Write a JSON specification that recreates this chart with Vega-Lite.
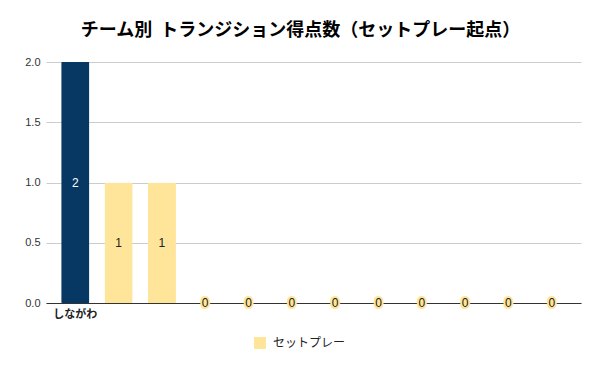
{
  "$schema": "https://vega.github.io/schema/vega-lite/v6.json",
  "width": 535,
  "height": 241,
  "autosize": {"type": "none"},
  "padding": {"left": 46, "top": 62, "right": 19, "bottom": 68},
  "background": "white",
  "title": {
    "text": "チーム別\u00a0\u00a0トランジション得点数（セットプレー起点）",
    "font": "Noto Sans CJK JP",
    "fontSize": 18,
    "fontWeight": "bold",
    "color": "#000000",
    "anchor": "middle",
    "dx": -13,
    "offset": 16
  },
  "config": {
    "view": {"stroke": null},
    "font": "Liberation Sans, Noto Sans CJK JP"
  },
  "data": {
    "values": [
      {"team": "しながわ", "series": "セットプレー", "value": 2},
      {"team": "チーム2", "series": "セットプレー", "value": 1},
      {"team": "チーム3", "series": "セットプレー", "value": 1},
      {"team": "チーム4", "series": "セットプレー", "value": 0},
      {"team": "チーム5", "series": "セットプレー", "value": 0},
      {"team": "チーム6", "series": "セットプレー", "value": 0},
      {"team": "チーム7", "series": "セットプレー", "value": 0},
      {"team": "チーム8", "series": "セットプレー", "value": 0},
      {"team": "チーム9", "series": "セットプレー", "value": 0},
      {"team": "チーム10", "series": "セットプレー", "value": 0},
      {"team": "チーム11", "series": "セットプレー", "value": 0},
      {"team": "チーム12", "series": "セットプレー", "value": 0}
    ]
  },
  "encoding": {
    "x": {
      "field": "team",
      "type": "nominal",
      "sort": null,
      "scale": {"paddingInner": 0.35, "paddingOuter": 0.35},
      "axis": {
        "title": null,
        "labelAngle": 0,
        "labelExpr": "datum.value == 'しながわ' ? datum.label : ''",
        "labelFont": "Noto Sans CJK JP",
        "labelFontSize": 11,
        "labelFontWeight": "bold",
        "labelColor": "#222222",
        "labelPadding": 5,
        "ticks": false,
        "domainColor": "#333333",
        "domainWidth": 1
      }
    }
  },
  "layer": [
    {
      "mark": {"type": "bar", "cornerRadius": 1},
      "encoding": {
        "y": {
          "field": "value",
          "type": "quantitative",
          "scale": {"domain": [0, 2]},
          "axis": {
            "title": null,
            "values": [0, 0.5, 1, 1.5, 2],
            "format": ".1f",
            "labelFont": "Liberation Sans",
            "labelFontSize": 11,
            "labelColor": "#333333",
            "labelPadding": 6,
            "ticks": false,
            "domain": false,
            "gridColor": "#cccccc"
          }
        },
        "color": {
          "condition": {"test": "datum.team == 'しながわ'", "value": "#073763"},
          "field": "series",
          "type": "nominal",
          "scale": {"domain": ["セットプレー"], "range": ["#ffe599"]},
          "legend": {
            "title": null,
            "orient": "none",
            "legendX": 208,
            "legendY": 275,
            "symbolType": "square",
            "symbolSize": 144,
            "symbolStrokeWidth": 0,
            "symbolOffset": 0,
            "labelOffset": 7,
            "labelFont": "Noto Sans CJK JP",
            "labelFontSize": 12,
            "labelColor": "#222222"
          }
        }
      }
    },
    {
      "transform": [
        {"filter": "datum.value > 0"},
        {"calculate": "datum.value / 2", "as": "mid"}
      ],
      "mark": {"type": "text", "font": "Liberation Sans", "fontSize": 12, "baseline": "middle"},
      "encoding": {
        "y": {"field": "mid", "type": "quantitative"},
        "text": {"field": "value", "type": "quantitative"},
        "color": {
          "condition": {"test": "datum.team == 'しながわ'", "value": "#ffffff"},
          "value": "#222222"
        }
      }
    },
    {
      "transform": [{"filter": "datum.value == 0"}],
      "mark": {"type": "text", "font": "Liberation Sans", "fontSize": 12, "baseline": "middle", "stroke": "#ffe599", "strokeWidth": 4, "fill": "#ffe599"},
      "encoding": {
        "y": {"field": "value", "type": "quantitative"},
        "text": {"field": "value", "type": "quantitative"}
      }
    },
    {
      "transform": [{"filter": "datum.value == 0"}],
      "mark": {"type": "text", "font": "Liberation Sans", "fontSize": 12, "baseline": "middle", "color": "#222222"},
      "encoding": {
        "y": {"field": "value", "type": "quantitative"},
        "text": {"field": "value", "type": "quantitative"}
      }
    }
  ]
}
